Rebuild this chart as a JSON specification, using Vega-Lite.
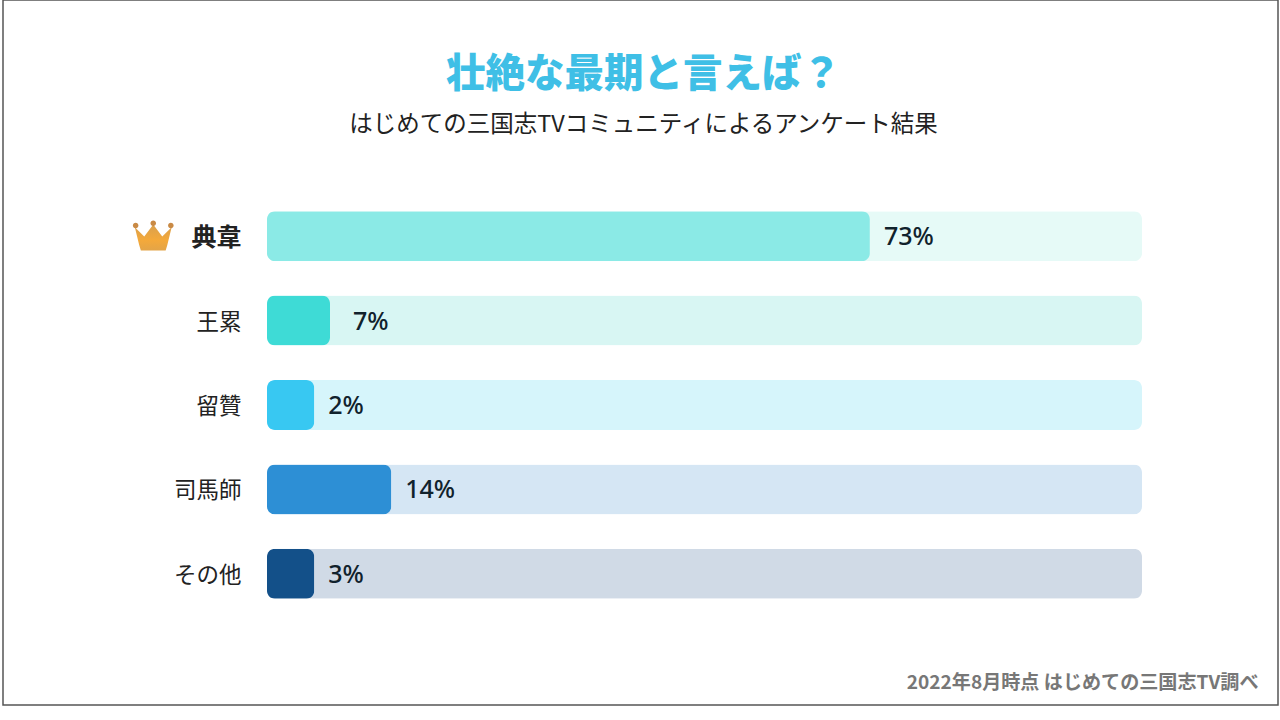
{
"$schema":"https://vega.github.io/schema/vega-lite/v6.json",
"autosize":{"type":"none"},
"width":1275,"height":705,
"padding":{"left":3,"top":0,"right":2,"bottom":15},
"background":"white",
"view":{"stroke":"#555555","strokeWidth":1.5,"fill":"white"},
"config":{"font":"Noto Sans CJK JP"},
"title":{"text":"壮絶な最期と言えば？","subtitle":"はじめての三国志TVコミュニティによるアンケート結果","anchor":"middle","frame":"group","offset":-137,"dx":3,"font":"Noto Sans CJK JP","fontSize":39.5,"fontWeight":900,"color":"#3FBFE6","subtitleFont":"Noto Sans CJK JP","subtitleFontSize":23.5,"subtitleFontWeight":400,"subtitleColor":"#222222","subtitlePadding":17},
"data":{"values":[
{"name":"典韋","share":73,"label":"73%","bar":68.9,"track":100},
{"name":"王累","share":7,"label":"7%","bar":7.2,"track":100},
{"name":"留贊","share":2,"label":"2%","bar":5.4,"track":100},
{"name":"司馬師","share":14,"label":"14%","bar":14.2,"track":100},
{"name":"その他","share":3,"label":"3%","bar":5.4,"track":100}
]},
"encoding":{
"y":{"field":"name","type":"nominal","sort":null,
"scale":{"domain":["典韋","王累","留贊","司馬師","その他"],"range":[194,616],"paddingInner":0,"paddingOuter":0},
"axis":{"title":null,"domain":false,"ticks":false,"grid":false,"offset":-264,"labelPadding":26,"labelOffset":2,"labelColor":"#222222","labelFont":"Noto Sans CJK JP","labelFontSize":{"expr":"datum.value==='典韋'?25:22.5"},"labelFontWeight":{"expr":"datum.value==='典韋'?'bold':'normal'"}}}
},
"layer":[
{"mark":{"type":"bar","height":50,"cornerRadius":8},
"encoding":{
"x":{"field":"track","type":"quantitative","scale":{"domain":[0,100],"range":[264,1139],"nice":false,"zero":false},
"axis":{"title":"2022年8月時点 はじめての三国志TV調べ","domain":false,"ticks":false,"labels":false,"grid":false,"titleFont":"Noto Sans CJK JP","titleFontSize":19.1,"titleFontWeight":"bold","titleColor":"#777777","titleAlign":"right","titleAnchor":"end","titleX":1255,"titleY":-23,"titleBaseline":"middle"}},
"color":{"field":"name","type":"nominal","legend":null,"scale":{"domain":["典韋","王累","留贊","司馬師","その他"],"range":["#E6FAF7","#D8F6F3","#D6F5FB","#D5E6F4","#D0DAE6"]}}
}},
{"mark":{"type":"bar","height":50,"cornerRadius":8},
"encoding":{
"x":{"field":"bar","type":"quantitative"},
"color":{"field":"name","type":"nominal","legend":null,"scale":{"domain":["典韋","王累","留贊","司馬師","その他"],"range":["#8BEAE6","#3EDBD6","#38C8F2","#2D8FD5","#135089"]}}
}},
{"transform":[{"filter":"datum.name!=='王累'"}],
"mark":{"type":"text","align":"left","baseline":"middle","dx":14,"dy":1,"fontSize":25,"fontWeight":500,"font":"Noto Sans","color":"#10222C"},
"encoding":{
"x":{"field":"bar","type":"quantitative"},
"text":{"field":"label"}
}},
{"transform":[{"filter":"datum.name==='王累'"}],
"mark":{"type":"text","align":"left","baseline":"middle","dx":23,"dy":1.5,"fontSize":25,"fontWeight":500,"font":"Noto Sans","color":"#10222C"},
"encoding":{
"x":{"field":"bar","type":"quantitative"},
"text":{"field":"label"}
}},
{"transform":[{"filter":"datum.name==='典韋'"}],
"mark":{"type":"point","filled":true,"opacity":1,"size":1600,"clip":false,
"shape":"M-0.62 0.72 L-0.7 0.45 L-0.92 -0.45 L-0.45 0.02 L0 -0.58 L0.45 0.02 L0.92 -0.45 L0.7 0.45 L0.62 0.72 Z",
"color":{"gradient":"linear","x1":0,"y1":0,"x2":0,"y2":1,"stops":[{"offset":0,"color":"#D9A04E"},{"offset":0.6,"color":"#F4A93A"},{"offset":1,"color":"#E3A448"}]}},
"encoding":{
"x":{"datum":-13,"type":"quantitative"}
}},
{"transform":[{"filter":"datum.name==='典韋'"}],
"mark":{"type":"point","filled":true,"opacity":1,"size":1600,"clip":false,"color":"#C98A45",
"shape":"M-1.02 -0.53 a0.14 0.14 0 1 0 0.28 0 a0.14 0.14 0 1 0 -0.28 0 Z M-0.14 -0.65 a0.14 0.14 0 1 0 0.28 0 a0.14 0.14 0 1 0 -0.28 0 Z M0.74 -0.53 a0.14 0.14 0 1 0 0.28 0 a0.14 0.14 0 1 0 -0.28 0 Z"},
"encoding":{
"x":{"datum":-13,"type":"quantitative"}
}}
],
"resolve":{"scale":{"color":"independent"}}
}
